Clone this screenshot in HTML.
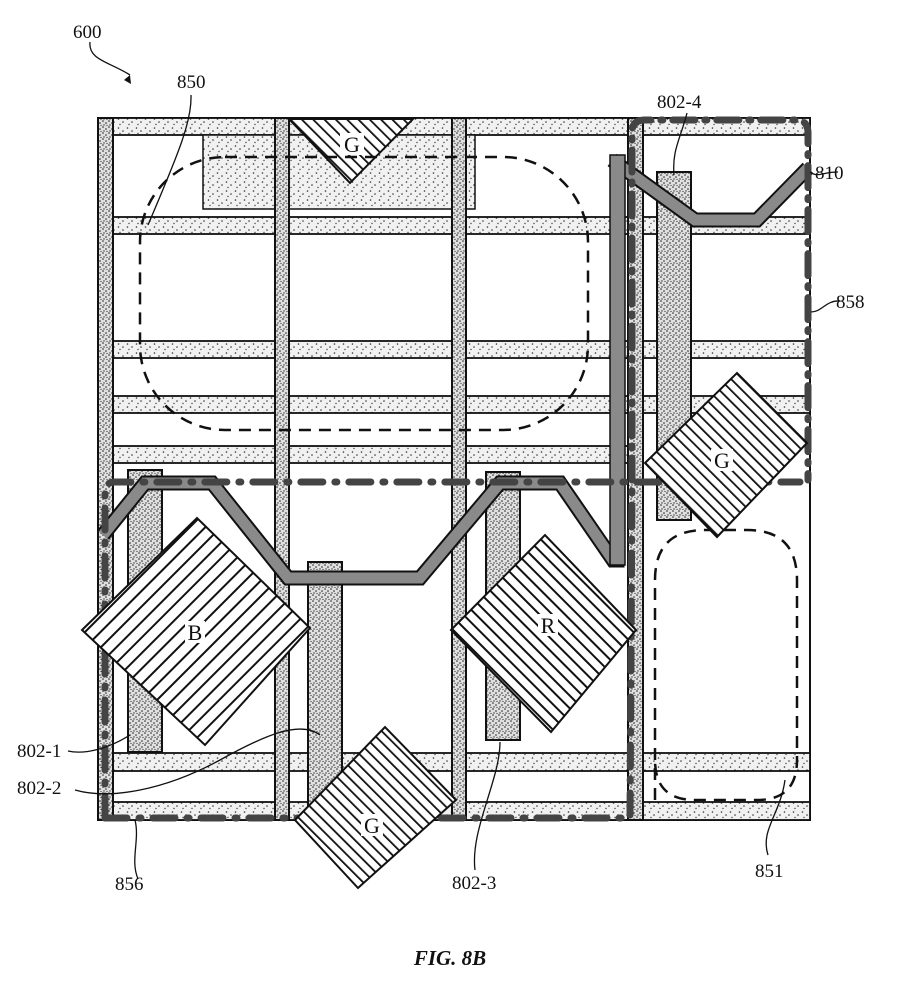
<!DOCTYPE html>
<html><head><meta charset="utf-8"><style>
html,body{margin:0;padding:0;background:#fff;}
svg{display:block;}
text{font-family:"Liberation Serif",serif;fill:#111;}
</style></head><body>
<svg width="915" height="992" viewBox="0 0 915 992" xmlns="http://www.w3.org/2000/svg">
<defs>
<pattern id="st" width="9" height="9" patternUnits="userSpaceOnUse">
<rect width="9" height="9" fill="#f1f1f1"/>
<circle cx="1.5" cy="2" r="0.8" fill="#333"/><circle cx="6" cy="5" r="0.8" fill="#333"/><circle cx="3" cy="7.5" r="0.7" fill="#444"/>
</pattern>
<pattern id="st2" width="6" height="6" patternUnits="userSpaceOnUse">
<rect width="6" height="6" fill="#e0e0e0"/>
<circle cx="1" cy="1" r="0.8" fill="#222"/><circle cx="4" cy="3" r="0.8" fill="#222"/><circle cx="2" cy="5" r="0.7" fill="#333"/><circle cx="5" cy="5.5" r="0.6" fill="#333"/>
</pattern>
<pattern id="lnB" width="11" height="11" patternUnits="userSpaceOnUse" patternTransform="rotate(45)">
<rect width="11" height="11" fill="#fff"/><rect width="2" height="11" fill="#111"/>
</pattern>
<pattern id="lnR" width="9" height="9" patternUnits="userSpaceOnUse" patternTransform="rotate(-45)">
<rect width="9" height="9" fill="#fff"/><rect width="2" height="9" fill="#111"/>
</pattern>
<pattern id="lnG" width="8" height="8" patternUnits="userSpaceOnUse" patternTransform="rotate(-45)">
<rect width="8" height="8" fill="#fff"/><rect width="1.8" height="8" fill="#111"/>
</pattern>
</defs>

<rect x="98" y="118" width="712" height="702" fill="#fff" stroke="#111" stroke-width="2"/>

<g fill="url(#st)" stroke="#111" stroke-width="1.8">
<rect x="98" y="118" width="712" height="17"/>
<rect x="98" y="217" width="712" height="17"/>
<rect x="98" y="341" width="712" height="17"/>
<rect x="98" y="396" width="712" height="17"/>
<rect x="98" y="446" width="534" height="17"/>
<rect x="98" y="753" width="712" height="18"/>
<rect x="98" y="802" width="712" height="18"/>
</g>
<rect x="203" y="135" width="272" height="74" fill="url(#st)" stroke="#111" stroke-width="1.5"/>

<g fill="url(#st2)" stroke="#111" stroke-width="2">
<rect x="98" y="118" width="15" height="702"/>
<rect x="275" y="118" width="14" height="702"/>
<rect x="452" y="118" width="14" height="702"/>
<rect x="628" y="118" width="15" height="702"/>
</g>

<polygon points="289,119 413,119 350,183" fill="url(#lnG)" stroke="#111" stroke-width="2"/>
<rect x="340" y="133" width="24" height="22" fill="#fff"/>
<text x="352" y="152" font-size="22" text-anchor="middle">G</text>

<g fill="url(#st2)" stroke="#111" stroke-width="2">
<rect x="657" y="172" width="34" height="348"/>
<rect x="128" y="470" width="34" height="282"/>
<rect x="308" y="562" width="34" height="258"/>
<rect x="486" y="472" width="34" height="268"/>
</g>

<g fill="none" stroke="#111" stroke-width="15" stroke-linejoin="miter">
<polyline points="808,168 757,220 695,220 612,160"/>
<polyline points="103,535 145,483 212,483 288,578 420,578 500,483 560,483 613,560 617,560 617,155"/>
</g>
<g fill="none" stroke="#8a8a8a" stroke-width="11" stroke-linejoin="miter">
<polyline points="808,168 757,220 695,220 612,160"/>
<polyline points="103,535 145,483 212,483 288,578 420,578 500,483 560,483 613,560 617,560 617,155"/>
</g>
<rect x="610" y="155" width="15" height="410" fill="#8a8a8a" stroke="#111" stroke-width="1.5"/>

<rect x="140" y="157" width="448" height="273" rx="85" ry="85" fill="none" stroke="#111" stroke-width="2.5" stroke-dasharray="12,8"/>
<path d="M655,800 L655,580 Q655,530 705,530 L747,530 Q797,530 797,580 L797,760 Q797,800 757,800 L695,800 Q655,800 655,760" fill="none" stroke="#111" stroke-width="2.5" stroke-dasharray="12,8"/>

<path d="M105,818 L105,492 Q105,482 115,482 L800,482" fill="none" stroke="#444" stroke-width="7" stroke-linecap="round" stroke-dasharray="22,12,2,12"/>
<path d="M105,818 L630,818 L632,482" fill="none" stroke="#444" stroke-width="7" stroke-linecap="round" stroke-dasharray="22,12,2,12"/>
<path d="M632,480 L632,132 Q632,120 645,120 L796,120 Q808,120 808,133 L808,480" fill="none" stroke="#444" stroke-width="7" stroke-linecap="round" stroke-dasharray="22,10,2,10"/>

<polygon points="82,630 197,518 310,628 205,745" fill="url(#lnB)" stroke="#111" stroke-width="2"/>
<rect x="185" y="621" width="20" height="22" fill="#fff"/>
<text x="195" y="640" font-size="22" text-anchor="middle">B</text>

<polygon points="451,630 545,535 636,630 551,732" fill="url(#lnR)" stroke="#111" stroke-width="2"/>
<rect x="538" y="614" width="20" height="22" fill="#fff"/>
<text x="548" y="633" font-size="22" text-anchor="middle">R</text>

<polygon points="295,820 385,727 456,800 358,888" fill="url(#lnG)" stroke="#111" stroke-width="2"/>
<rect x="361" y="814" width="22" height="22" fill="#fff"/>
<text x="372" y="833" font-size="22" text-anchor="middle">G</text>

<polygon points="645,463 737,373 807,443 717,537" fill="url(#lnG)" stroke="#111" stroke-width="2"/>
<rect x="711" y="449" width="22" height="22" fill="#fff"/>
<text x="722" y="468" font-size="22" text-anchor="middle">G</text>

<g fill="none" stroke="#111" stroke-width="1.3">
<path d="M90,42 C88,60 110,62 130,75"/>
<path d="M191,95 C192,120 180,150 148,225"/>
<path d="M687,113 C680,140 672,150 674,175"/>
<path d="M810,172 C818,178 822,172 838,172"/>
<path d="M811,312 C822,312 826,300 840,301"/>
<path d="M68,751 C85,755 110,748 130,735"/>
<path d="M75,790 C110,800 165,790 220,760 C265,735 300,720 320,735"/>
<path d="M138,879 C130,860 140,840 135,820"/>
<path d="M475,870 C470,830 500,780 500,742"/>
<path d="M768,855 C760,830 780,815 785,780"/>
</g>
<polygon points="130,75 124,80 131,84" fill="#111"/>

<g font-size="19">
<text x="73" y="38">600</text>
<text x="177" y="88">850</text>
<text x="657" y="108">802-4</text>
<text x="815" y="179">810</text>
<text x="836" y="308">858</text>
<text x="17" y="757">802-1</text>
<text x="17" y="794">802-2</text>
<text x="115" y="890">856</text>
<text x="452" y="889">802-3</text>
<text x="755" y="877">851</text>
</g>
<text x="450" y="965" font-size="21" font-weight="bold" font-style="italic" text-anchor="middle">FIG. 8B</text>
</svg>
</body></html>
